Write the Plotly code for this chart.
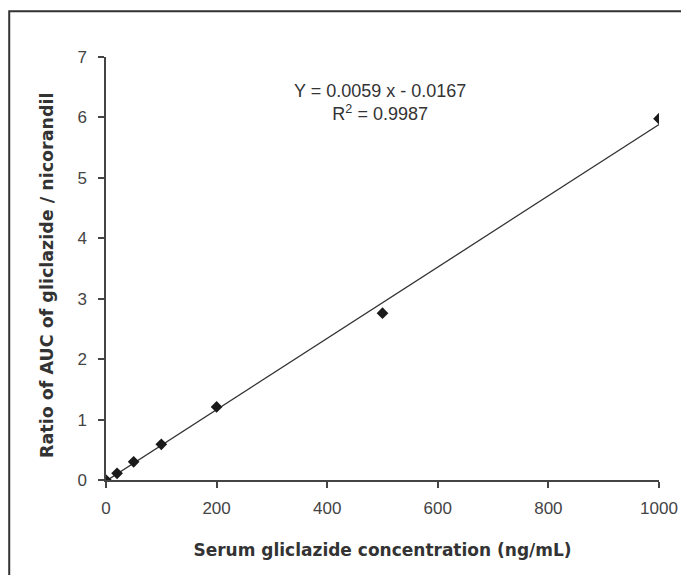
import plotly.graph_objects as go

conc = [0, 20, 50, 100, 200, 500, 1000]
ratio = [0.0, 0.11, 0.30, 0.59, 1.21, 2.76, 5.98]
slope = 0.0059
intercept = -0.0167
fit_x = [0, 1000]
fit_y = [slope * v + intercept for v in fit_x]
x_ticks = [0, 200, 400, 600, 800, 1000]
y_ticks = [0, 1, 2, 3, 4, 5, 6, 7]

font = "Liberation Sans, Arial, sans-serif"
bold_font = "DejaVu Sans, Verdana, sans-serif"

fig = go.Figure()
fig.add_trace(go.Scatter(x=fit_x, y=fit_y, mode="lines",
                         line=dict(color="#333333", width=1.3),
                         showlegend=False, hoverinfo="skip"))
fig.add_trace(go.Scatter(x=conc, y=ratio, mode="markers",
                         marker=dict(symbol="diamond", size=9, color="#1a1a1a"),
                         showlegend=False))

axis_common = dict(showline=True, linecolor="#444444", linewidth=1.5,
                   ticks="outside", ticklen=6, tickcolor="#444444", tickwidth=1.5,
                   showgrid=False, zeroline=False, automargin=False,
                   tickfont=dict(family=font, size=17, color="#444444"))

fig.update_xaxes(range=[0, 1000], tickvals=x_ticks, ticklabelstandoff=6,
                 title=dict(text="<b>Serum gliclazide concentration (ng/mL)</b>",
                            font=dict(family=bold_font, size=17, color="#333333"),
                            standoff=27),
                 **axis_common)
fig.update_yaxes(range=[0, 7], tickvals=y_ticks, ticklabelstandoff=8,
                 **axis_common)

fig.add_annotation(xref="paper", yref="paper", x=-0.1067, y=0.4846,
                   xanchor="center", yanchor="middle", textangle=-90,
                   text="<b>Ratio of AUC of gliclazide / nicorandil</b>",
                   showarrow=False,
                   font=dict(family=bold_font, size=17.5, color="#333333"))

fig.add_annotation(xref="x", yref="y", x=495, y=6.25,
                   text="Y = 0.0059 x - 0.0167<br>R<sup>2</sup> = 0.9987",
                   showarrow=False, align="center",
                   font=dict(family=font, size=18, color="#333333"))

fig.add_shape(type="rect", xref="paper", yref="paper",
              x0=-0.175, x1=1.3, y0=-0.3, y1=1.108,
              line=dict(color="#333333", width=2), layer="below")

fig.update_layout(width=681, height=575,
                  margin=dict(l=106, r=22, t=57, b=95),
                  plot_bgcolor="white", paper_bgcolor="white")

fig.write_html("out.html")
